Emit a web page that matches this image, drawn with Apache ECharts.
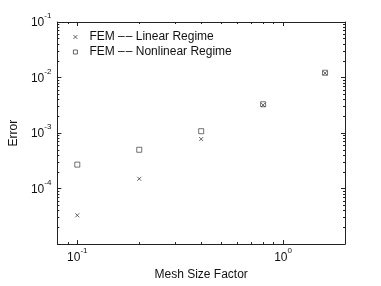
<!DOCTYPE html>
<html><head><meta charset="utf-8">
<script src="https://cdn.jsdelivr.net/npm/echarts@6/dist/echarts.min.js"></script>
<style>html,body{margin:0;padding:0;background:#fff}#c{width:381px;height:286px}</style>
</head><body><div id="c"></div>
<script>
// ---- data ----
var meshSize = [0.1, 0.2, 0.4, 0.8, 1.6];
var linearErr = [3.3e-5, 1.5e-4, 7.8e-4, 3.2e-3, 1.2e-2];
var nonlinearErr = [2.7e-4, 5.0e-4, 1.08e-3, 3.3e-3, 1.22e-2];
var seriesNames = ['FEM \u2013\u200a\u2013 Linear Regime', 'FEM \u2013\u200a\u2013 Nonlinear Regime'];
var xMajorTicks = [0.1, 1];
var xMinorTicks = [0.09, 0.2, 0.3, 0.4, 0.5, 0.6, 0.7, 0.8, 0.9];
var yMajorTicks = [1e-4, 1e-3, 1e-2, 1e-1];
var yMinorTicks = [];
[1e-5, 1e-4, 1e-3, 1e-2].forEach(function (d) { for (var k = 2; k <= 9; k++) yMinorTicks.push(d * k); });
var xRange = [0.08, 2];
var yRange = [1e-5, 1e-1];

var FONT = '"Liberation Sans", Arial, sans-serif';
var TXT = '#111';
function pow10Label(v) {
  var e = Math.round(Math.log(v) / Math.LN10);
  return '{b|10}{s|' + e + '}';
}
var rich = {
  b: {fontSize: 12, fontFamily: FONT, color: TXT, padding: [5, 0, 0, 0]},
  s: {fontSize: 8, fontFamily: FONT, color: TXT, verticalAlign: 'top'}
};
var lineStyle = {color: '#222', width: 1};

function mkAxis(opts) {
  var a = {
    type: 'log', logBase: 10, min: opts.range[0], max: opts.range[1],
    position: opts.position, splitLine: {show: false},
    axisLine: {show: !!opts.line, onZero: false, lineStyle: lineStyle},
    axisTick: {show: true, inside: true, length: opts.len, customValues: opts.ticks, lineStyle: {color: '#222', width: 1}},
    axisLabel: {show: false},
    minorTick: {show: false}
  };
  if (opts.labels) {
    a.axisLabel = {show: true, customValues: opts.labels, formatter: pow10Label, rich: rich,
      margin: opts.margin, padding: opts.lpad || 0};
  }
  if (opts.name) {
    a.name = opts.name; a.nameLocation = 'middle'; a.nameGap = opts.nameGap;
    a.nameTextStyle = {fontFamily: FONT, fontSize: 12, color: TXT};
  }
  return a;
}

var markerStyle = {color: 'rgba(0,0,0,0)', borderColor: '#111', borderWidth: 0.8};
var symbols = ['path://M0,0L10,10M10,0L0,10', 'rect'];

var chart = echarts.init(document.getElementById('c'), null, {renderer: 'canvas'});
chart.setOption({
  backgroundColor: '#fff',
  animation: false,
  grid: {left: 49, right: 36, top: 22, bottom: 36, containLabel: false},
  legend: {
    orient: 'vertical', left: 68, top: 25, itemWidth: 4, itemHeight: 4, itemGap: 1,
    itemStyle: markerStyle,
    textStyle: {fontFamily: FONT, fontSize: 12, color: TXT, lineHeight: 14, padding: [0, 0, 0, 7]},
    data: [
      {name: seriesNames[0], icon: symbols[0], itemStyle: markerStyle},
      {name: seriesNames[1], icon: symbols[1], itemStyle: markerStyle}
    ]
  },
  xAxis: [
    mkAxis({range: xRange, position: 'bottom', line: true, len: 4, ticks: xMajorTicks, labels: xMajorTicks, margin: 3,
      name: 'Mesh Size Factor', nameGap: 19}),
    mkAxis({range: xRange, position: 'bottom', len: 2, ticks: xMinorTicks}),
    mkAxis({range: xRange, position: 'top', line: true, len: 4, ticks: xMajorTicks}),
    mkAxis({range: xRange, position: 'top', len: 2, ticks: xMinorTicks})
  ],
  yAxis: [
    mkAxis({range: yRange, position: 'left', line: true, len: 4, ticks: yMajorTicks, labels: yMajorTicks, margin: 6,
      lpad: [0, 0, 3, 0], name: 'Error', nameGap: 37}),
    mkAxis({range: yRange, position: 'left', len: 2, ticks: yMinorTicks}),
    mkAxis({range: yRange, position: 'right', line: true, len: 4, ticks: yMajorTicks}),
    mkAxis({range: yRange, position: 'right', len: 2, ticks: yMinorTicks})
  ],
  series: [
    {
      name: seriesNames[0], type: 'scatter', xAxisIndex: 0, yAxisIndex: 0,
      symbol: symbols[0], symbolSize: 4,
      itemStyle: markerStyle,
      data: meshSize.map(function (x, i) { return [x, linearErr[i]]; })
    },
    {
      name: seriesNames[1], type: 'scatter', xAxisIndex: 0, yAxisIndex: 0,
      symbol: symbols[1], symbolSize: 5,
      itemStyle: {color: 'rgba(0,0,0,0)', borderColor: '#222', borderWidth: 0.8},
      data: meshSize.map(function (x, i) { return [x, nonlinearErr[i]]; })
    }
  ]
});
</script></body></html>
